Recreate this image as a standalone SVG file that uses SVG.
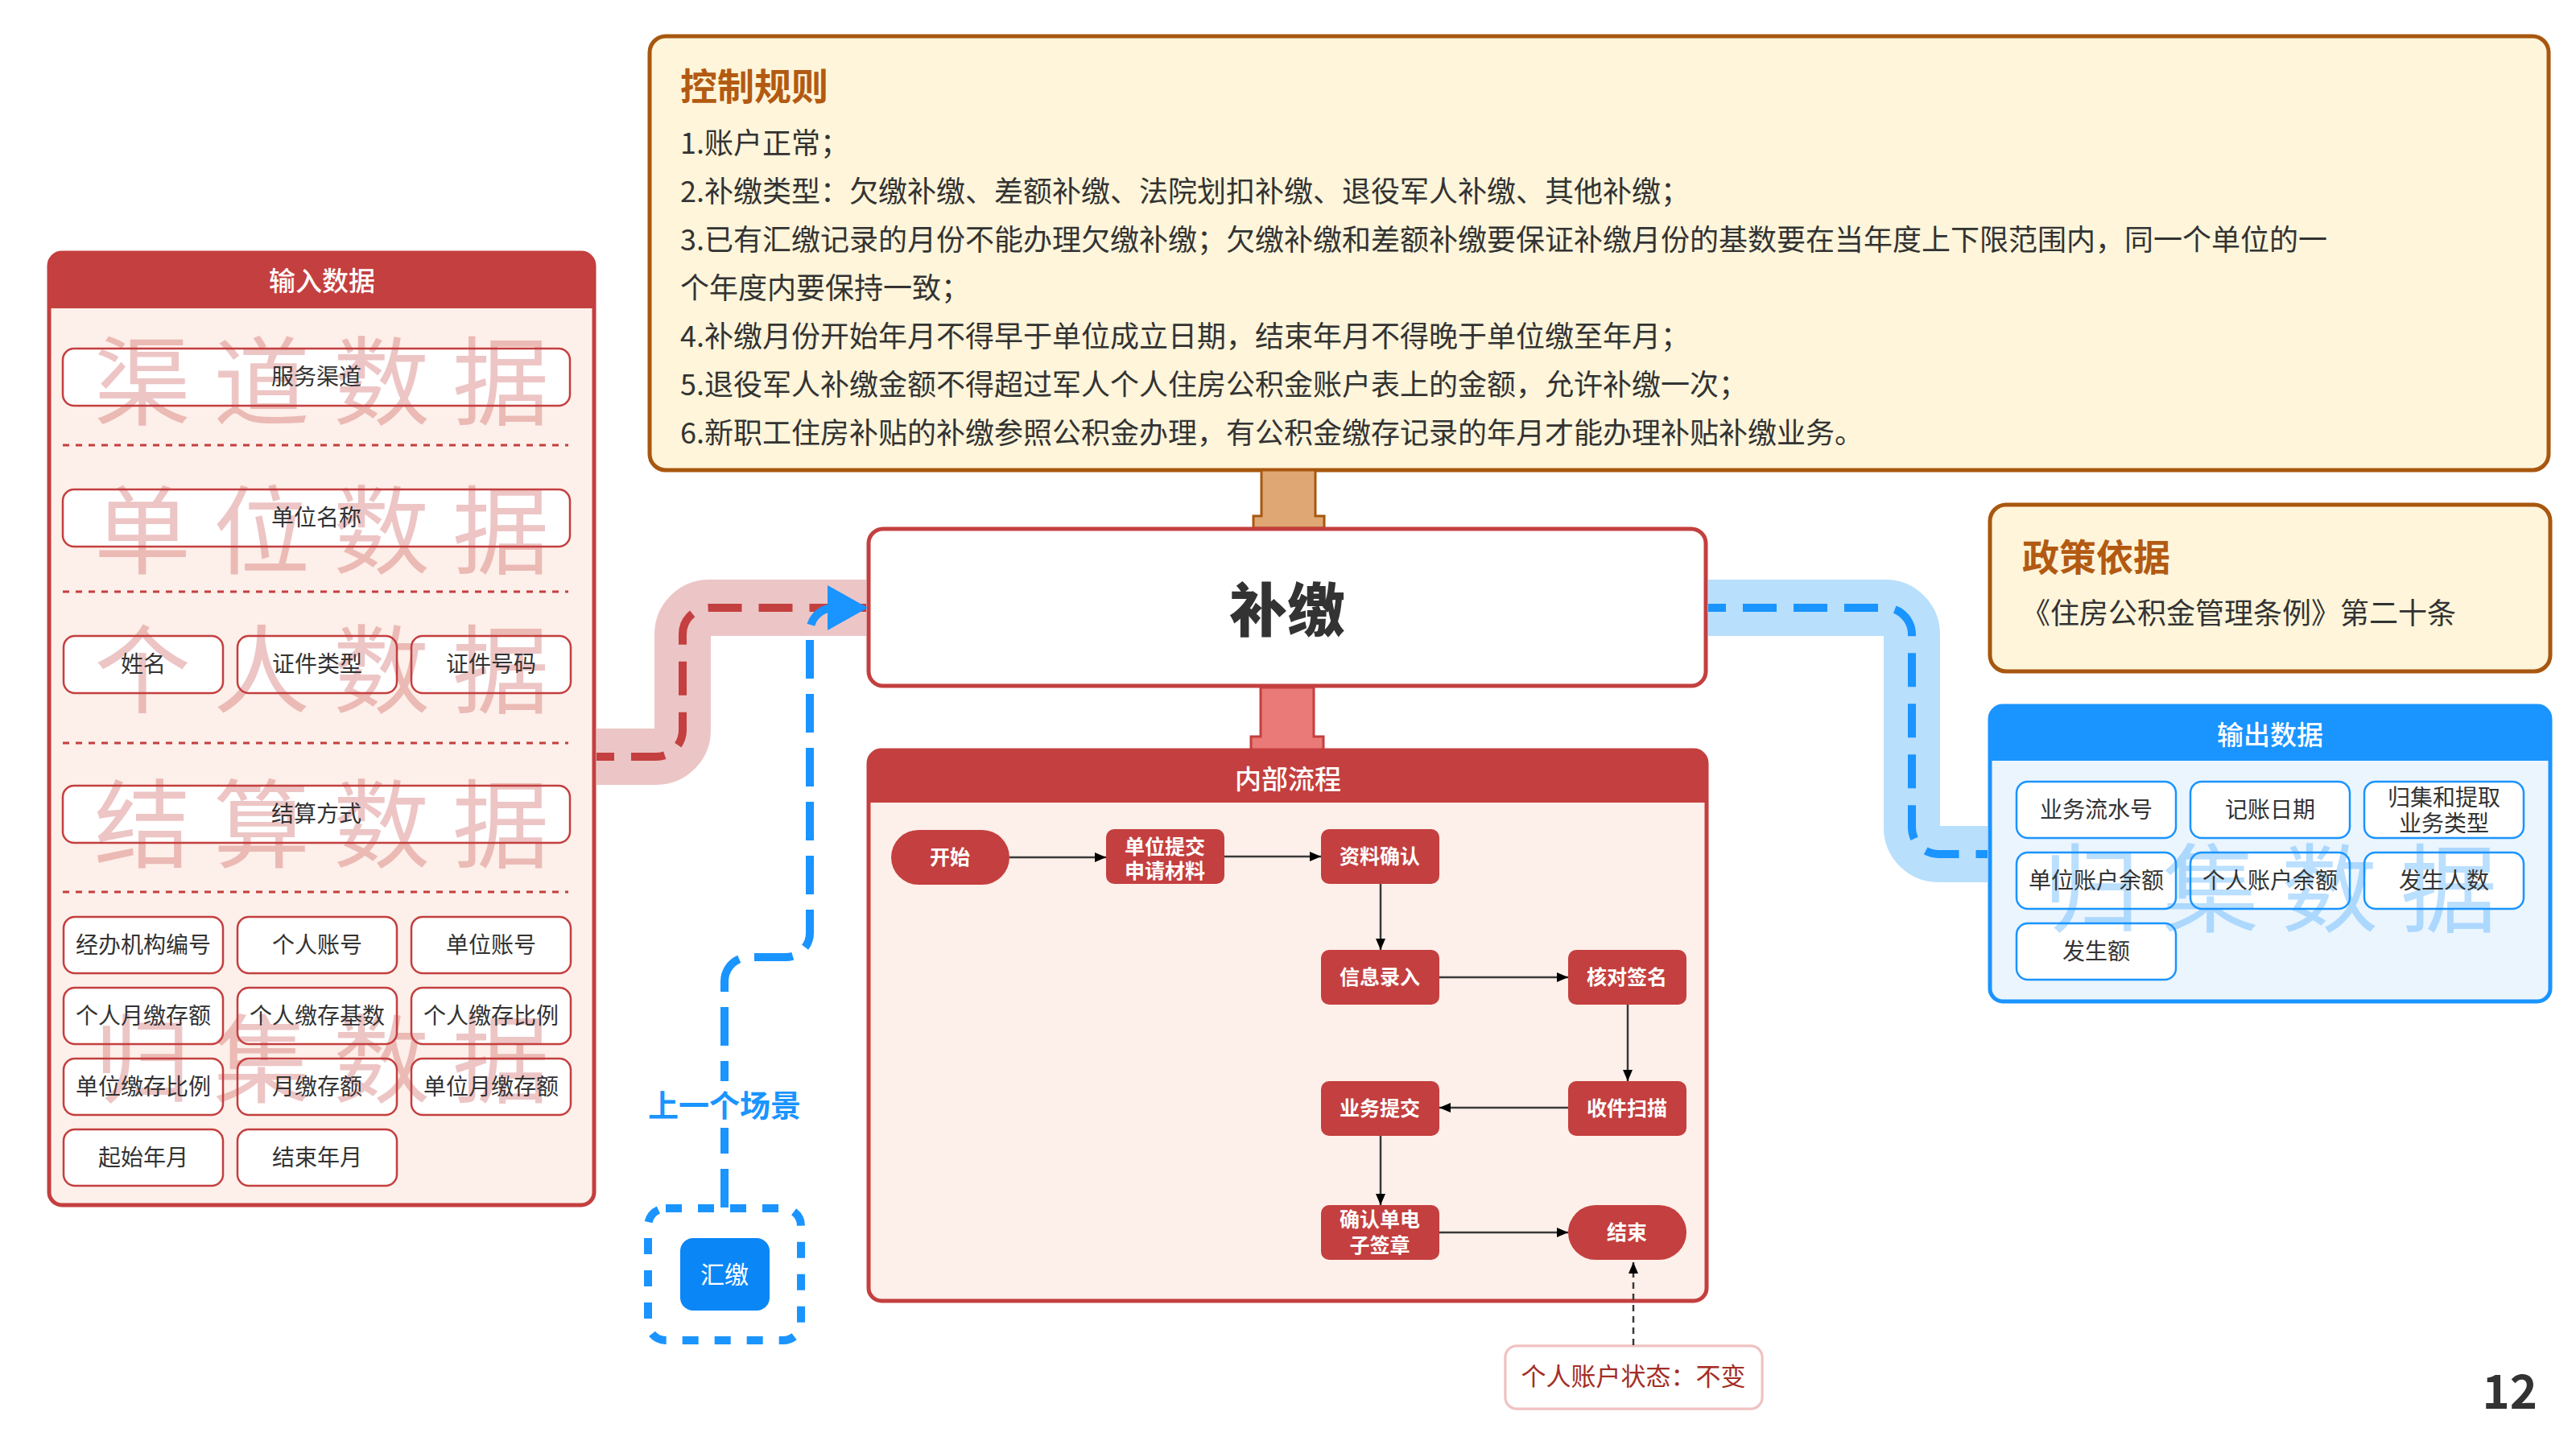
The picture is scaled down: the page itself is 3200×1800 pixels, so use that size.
<svg xmlns="http://www.w3.org/2000/svg" width="3200" height="1800" viewBox="0 0 3200 1800">
<defs>
<style>
.t{font-family:'Noto Sans CJK SC','Noto Sans',sans-serif}
.rpanel{fill:#FDEFE9;stroke:#C43F3F;stroke-width:5}
.rhead{fill:#C43F3F}
.bpanel{fill:#EBF5FE;stroke:#1A94FF;stroke-width:5}
.bhead{fill:#1A94FF}
.cream{fill:#FEF5DA;stroke:#A8570F;stroke-width:5}
.item{fill:#fff;stroke:#C43F3F;stroke-width:2.5}
.itemb{fill:#fff;stroke:#1A94FF;stroke-width:2.5}
.lbl{font-size:28px;fill:#333;text-anchor:middle}
.htitle{font-size:33px;fill:#fff;text-anchor:middle;font-weight:500}
.wmr{font-size:120px;fill:#C43F3F;fill-opacity:0.3;text-anchor:middle}
.wmb{font-size:120px;fill:#1A94FF;fill-opacity:0.3;text-anchor:middle}
.sep{stroke:#C43F3F;stroke-width:3;stroke-dasharray:8 8;fill:none}
.node{fill:#C43F3F}
.ntxt{font-size:25px;fill:#fff;font-weight:700;text-anchor:middle}
.rule{font-size:36px;fill:#333}
.ctitle{font-size:46px;fill:#B35A12;font-weight:700}
.flow{stroke:#3a3a3a;stroke-width:2.5;fill:none;marker-end:url(#ah)}
</style>
<marker id="ah" markerUnits="userSpaceOnUse" markerWidth="16" markerHeight="14" refX="14" refY="6" orient="auto">
<path d="M0,0 L14,6 L0,12 z" fill="#000"/>
</marker>
<filter id="sh" x="-10%" y="-20%" width="120%" height="140%">
<feGaussianBlur in="SourceAlpha" stdDeviation="4"/>
<feFlood flood-color="#E8A0A0" flood-opacity="0.6"/>
<feComposite operator="in" in2="SourceGraphic"/>
<feMerge><feMergeNode/><feMergeNode in="SourceGraphic"/></feMerge>
</filter>
</defs>
<rect width="3200" height="1800" fill="#fff"/>

<g id="control-rules">
<rect class="cream" x="807" y="45" width="2359" height="539" rx="20"/>
<text class="t ctitle" x="845" y="124">控制规则</text>
<text class="t rule" x="845" y="191">1.账户正常；</text>
<text class="t rule" x="845" y="251">2.补缴类型：欠缴补缴、差额补缴、法院划扣补缴、退役军人补缴、其他补缴；</text>
<text class="t rule" x="845" y="311">3.已有汇缴记录的月份不能办理欠缴补缴；欠缴补缴和差额补缴要保证补缴月份的基数要在当年度上下限范围内，同一个单位的一</text>
<text class="t rule" x="845" y="371">个年度内要保持一致；</text>
<text class="t rule" x="845" y="431">4.补缴月份开始年月不得早于单位成立日期，结束年月不得晚于单位缴至年月；</text>
<text class="t rule" x="845" y="491">5.退役军人补缴金额不得超过军人个人住房公积金账户表上的金额，允许补缴一次；</text>
<text class="t rule" x="845" y="551">6.新职工住房补贴的补缴参照公积金办理，有公积金缴存记录的年月才能办理补贴补缴业务。</text>
</g>

<g id="policy">
<rect class="cream" x="2472" y="627" width="696" height="207" rx="20"/>
<text class="t ctitle" x="2512" y="709">政策依据</text>
<text class="t" x="2511" y="775" font-size="36" fill="#333">《住房公积金管理条例》第二十条</text>
</g>

<g id="input-data">
<rect class="rpanel" x="61" y="314" width="677" height="1183" rx="16"/>
<path class="rhead" d="M61,330 A16,16 0 0 1 77,314 H722 A16,16 0 0 1 738,330 V383 H61 Z"/>
<text class="t htitle" x="400" y="361">输入数据</text>
<line class="sep" x1="78" y1="553" x2="706" y2="553"/>
<line class="sep" x1="78" y1="735" x2="706" y2="735"/>
<line class="sep" x1="78" y1="923" x2="706" y2="923"/>
<line class="sep" x1="78" y1="1108" x2="706" y2="1108"/>
<rect class="item" x="78" y="433" width="630" height="71" rx="14"/>
<rect class="item" x="78" y="608" width="630" height="71" rx="14"/>
<rect class="item" x="79" y="790" width="198" height="71" rx="14"/>
<rect class="item" x="295" y="790" width="198" height="71" rx="14"/>
<rect class="item" x="511" y="790" width="198" height="71" rx="14"/>
<rect class="item" x="78" y="976" width="630" height="71" rx="14"/>
<rect class="item" x="79" y="1139" width="198" height="70" rx="14"/>
<rect class="item" x="295" y="1139" width="198" height="70" rx="14"/>
<rect class="item" x="511" y="1139" width="198" height="70" rx="14"/>
<rect class="item" x="79" y="1227" width="198" height="70" rx="14"/>
<rect class="item" x="295" y="1227" width="198" height="70" rx="14"/>
<rect class="item" x="511" y="1227" width="198" height="70" rx="14"/>
<rect class="item" x="79" y="1315" width="198" height="70" rx="14"/>
<rect class="item" x="295" y="1315" width="198" height="70" rx="14"/>
<rect class="item" x="511" y="1315" width="198" height="70" rx="14"/>
<rect class="item" x="79" y="1403" width="198" height="70" rx="14"/>
<rect class="item" x="295" y="1403" width="198" height="70" rx="14"/>
<text class="t wmr" x="177 325 474 622" y="519">渠道数据</text>
<text class="t wmr" x="177 325 474 622" y="704">单位数据</text>
<text class="t wmr" x="177 325 474 622" y="877">个人数据</text>
<text class="t wmr" x="177 325 474 622" y="1069">结算数据</text>
<text class="t wmr" x="177 325 474 622" y="1361">归集数据</text>
<text class="t lbl" x="393" y="478">服务渠道</text>
<text class="t lbl" x="393" y="653">单位名称</text>
<text class="t lbl" x="178" y="835">姓名</text>
<text class="t lbl" x="394" y="835">证件类型</text>
<text class="t lbl" x="610" y="835">证件号码</text>
<text class="t lbl" x="393" y="1021">结算方式</text>
<text class="t lbl" x="178" y="1184">经办机构编号</text>
<text class="t lbl" x="394" y="1184">个人账号</text>
<text class="t lbl" x="610" y="1184">单位账号</text>
<text class="t lbl" x="178" y="1272">个人月缴存额</text>
<text class="t lbl" x="394" y="1272">个人缴存基数</text>
<text class="t lbl" x="610" y="1272">个人缴存比例</text>
<text class="t lbl" x="178" y="1360">单位缴存比例</text>
<text class="t lbl" x="394" y="1360">月缴存额</text>
<text class="t lbl" x="610" y="1360">单位月缴存额</text>
<text class="t lbl" x="178" y="1448">起始年月</text>
<text class="t lbl" x="394" y="1448">结束年月</text>
</g>

<g id="bujiao">
<polygon points="1567,584 1634,584 1634,641 1645,641 1645,656 1557,656 1557,641 1567,641" fill="#DFA774" stroke="#A8570F" stroke-width="3"/>
<rect x="1079" y="657" width="1040" height="195" rx="18" fill="#fff" stroke="#C43F3F" stroke-width="5"/>
<text class="t" x="1599" y="784" font-size="72" font-weight="900" fill="#333" text-anchor="middle">补缴</text>
<polygon points="1566,854 1632,854 1632,915 1644,915 1644,932 1554,932 1554,915 1566,915" fill="#EA7A77" stroke="#C43F3F" stroke-width="3"/>
</g>

<g id="internal-flow">
<rect class="rpanel" x="1079" y="932" width="1041" height="684" rx="16"/>
<path class="rhead" d="M1079,948 A16,16 0 0 1 1095,932 H2104 A16,16 0 0 1 2120,948 V997 H1079 Z"/>
<text class="t htitle" x="1600" y="980">内部流程</text>
</g>

<g id="n-start"><rect class="node" x="1107" y="1031" width="147" height="68" rx="34"/><text class="t ntxt" x="1180" y="1074">开始</text></g>
<g id="n-submit"><rect class="node" x="1374" y="1030" width="147" height="68" rx="10"/><text class="t ntxt" x="1447" y="1061">单位提交</text><text class="t ntxt" x="1447" y="1091">申请材料</text></g>
<g id="n-confirm"><rect class="node" x="1641" y="1030" width="147" height="68" rx="10"/><text class="t ntxt" x="1714" y="1073">资料确认</text></g>
<g id="n-entry"><rect class="node" x="1641" y="1180" width="147" height="68" rx="10"/><text class="t ntxt" x="1714" y="1223">信息录入</text></g>
<g id="n-check"><rect class="node" x="1948" y="1180" width="147" height="68" rx="10"/><text class="t ntxt" x="2021" y="1223">核对签名</text></g>
<g id="n-scan"><rect class="node" x="1948" y="1343" width="147" height="68" rx="10"/><text class="t ntxt" x="2021" y="1386">收件扫描</text></g>
<g id="n-biz"><rect class="node" x="1641" y="1343" width="147" height="68" rx="10"/><text class="t ntxt" x="1714" y="1386">业务提交</text></g>
<g id="n-sign"><rect class="node" x="1641" y="1497" width="147" height="68" rx="10"/><text class="t ntxt" x="1714" y="1524">确认单电</text><text class="t ntxt" x="1714" y="1556">子签章</text></g>
<g id="n-end"><rect class="node" x="1948" y="1497" width="147" height="68" rx="34"/><text class="t ntxt" x="2021" y="1540">结束</text></g>

<g id="account-status">
<rect x="1870" y="1672" width="319" height="78" rx="14" fill="#fff" stroke="#F0C2C2" stroke-width="3" filter="url(#sh)"/>
<text class="t" x="2029" y="1721" font-size="31" fill="#A32E25" text-anchor="middle">个人账户状态：不变</text>
</g>

<g id="output-data">
<rect class="bpanel" x="2472" y="877" width="696" height="367" rx="16"/>
<path class="bhead" d="M2472,893 A16,16 0 0 1 2488,877 H3152 A16,16 0 0 1 3168,893 V945 H2472 Z"/>
<text class="t htitle" x="2820" y="925">输出数据</text>
<rect class="itemb" x="2505" y="971" width="198" height="70" rx="14"/>
<rect class="itemb" x="2721" y="971" width="198" height="70" rx="14"/>
<rect class="itemb" x="2937" y="971" width="198" height="70" rx="14"/>
<rect class="itemb" x="2505" y="1059" width="198" height="70" rx="14"/>
<rect class="itemb" x="2721" y="1059" width="198" height="70" rx="14"/>
<rect class="itemb" x="2937" y="1059" width="198" height="70" rx="14"/>
<rect class="itemb" x="2505" y="1147" width="198" height="70" rx="14"/>
<text class="t wmb" x="2598 2746 2894 3042" y="1149">归集数据</text>
<text class="t lbl" x="2604" y="1016">业务流水号</text>
<text class="t lbl" x="2820" y="1016">记账日期</text>
<text class="t lbl" x="3036" y="1001">归集和提取</text>
<text class="t lbl" x="3036" y="1033">业务类型</text>
<text class="t lbl" x="2604" y="1104">单位账户余额</text>
<text class="t lbl" x="2820" y="1104">个人账户余额</text>
<text class="t lbl" x="3036" y="1104">发生人数</text>
<text class="t lbl" x="2604" y="1192">发生额</text>
</g>

<g id="prev-scene">
<rect x="805" y="1501" width="190" height="164" rx="22" fill="none" stroke="#1A94FF" stroke-width="10" stroke-dasharray="20 20"/>
<rect x="845" y="1538" width="111" height="90" rx="16" fill="#0A86F7"/>
<text class="t" x="900" y="1594" font-size="30" fill="#fff" text-anchor="middle">汇缴</text>
</g>

<g id="connectors">
<path d="M741,940 H815 A33,33 0 0 0 848,907 V788 A33,33 0 0 1 881,755 H1076" fill="none" stroke="#ECC6C6" stroke-width="70"/>
<path d="M741,940 H815 A33,33 0 0 0 848,907 V788 A33,33 0 0 1 881,755 H1076" fill="none" stroke="#C43F3F" stroke-width="10" stroke-dasharray="42 21" stroke-dashoffset="20"/>
<path d="M2122,755 H2342 A33,33 0 0 1 2375,788 V1028 A33,33 0 0 0 2408,1061 H2469" fill="none" stroke="#B8DFFC" stroke-width="70"/>
<path d="M2122,755 H2342 A33,33 0 0 1 2375,788 V1028 A33,33 0 0 0 2408,1061 H2469" fill="none" stroke="#1A94FF" stroke-width="10" stroke-dasharray="42 21" stroke-dashoffset="20"/>
<path d="M900,1500 V1219 A30,30 0 0 1 930,1189 H976 A30,30 0 0 0 1006,1159 V785 A30,30 0 0 1 1036,755" fill="none" stroke="#1A94FF" stroke-width="10" stroke-dasharray="48 19"/>
<polygon points="1028,727 1078,755 1028,783" fill="#1A94FF"/>
<rect x="798" y="1343" width="204" height="58" fill="#fff"/>
<text class="t" x="900" y="1387" font-size="38" font-weight="700" fill="#1A94FF" text-anchor="middle">上一个场景</text>
<path class="flow" d="M1254,1065 H1374"/>
<path class="flow" d="M1521,1064 H1641"/>
<path class="flow" d="M1715,1098 V1180"/>
<path class="flow" d="M1788,1214 H1948"/>
<path class="flow" d="M2022,1248 V1343"/>
<path class="flow" d="M1948,1376 H1788"/>
<path class="flow" d="M1715,1411 V1497"/>
<path class="flow" d="M1788,1531 H1948"/>
<path d="M2029,1671 V1568" stroke="#3a3a3a" stroke-width="2.5" stroke-dasharray="8 6" fill="none" marker-end="url(#ah)"/>
</g>

<text class="t" x="3152" y="1750" font-family="'Open Sans',sans-serif" font-size="58" font-weight="600" fill="#333" text-anchor="end">12</text>
</svg>
